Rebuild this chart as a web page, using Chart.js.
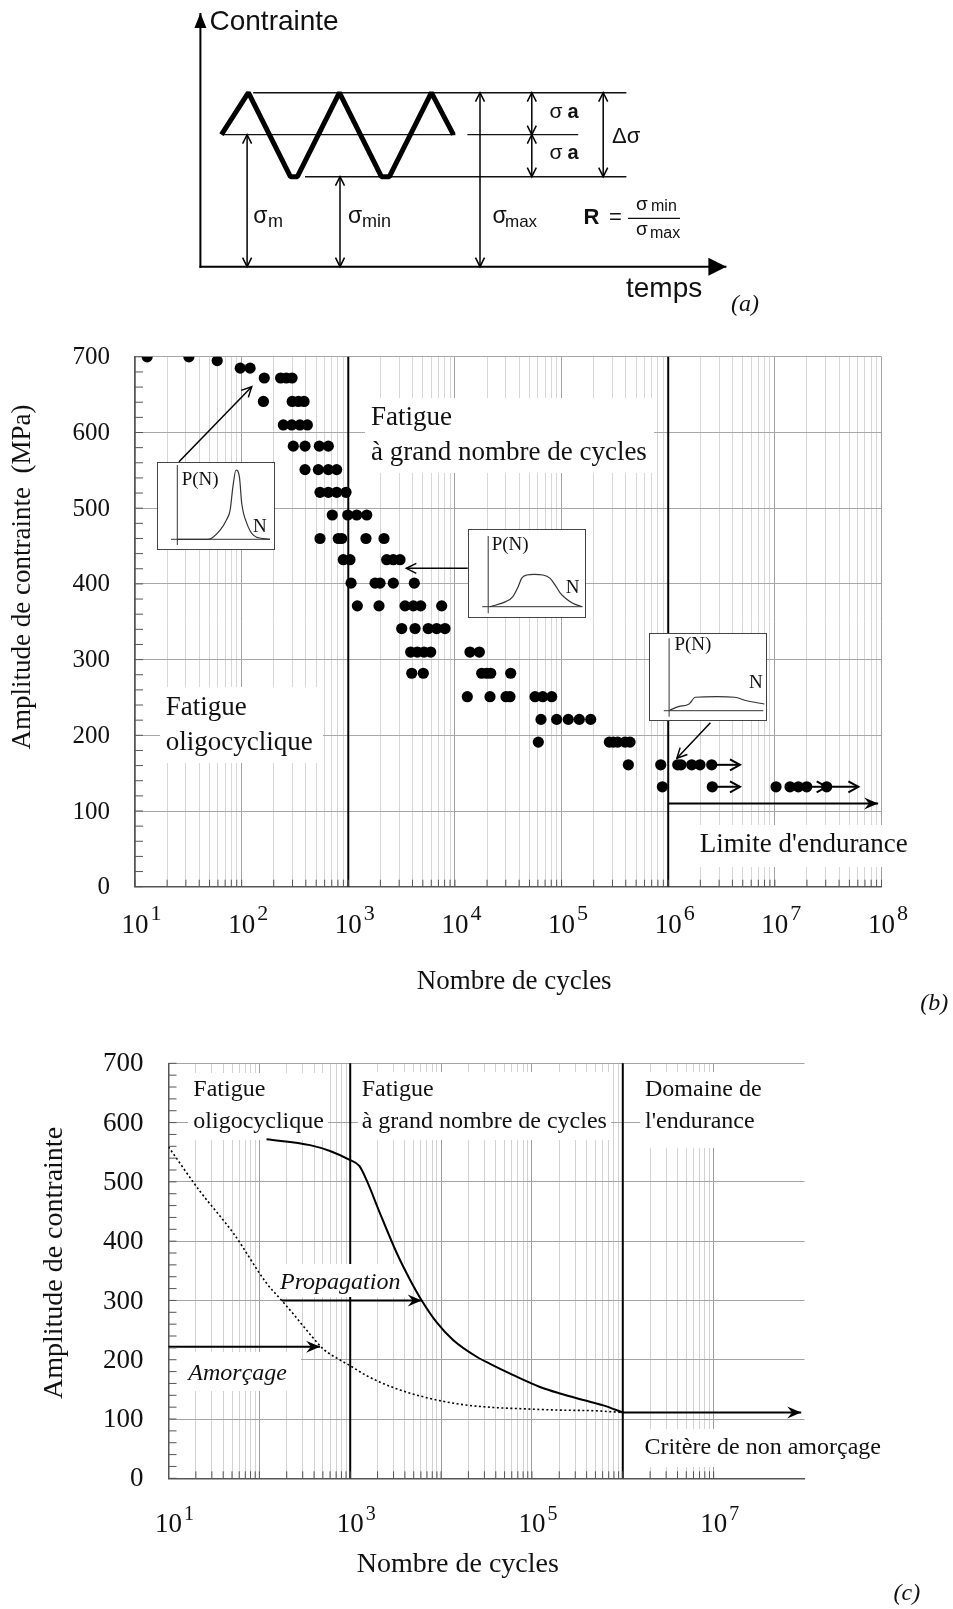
<!DOCTYPE html>
<html><head><meta charset="utf-8">
<script src="https://cdn.jsdelivr.net/npm/chart.js@4.4.1/dist/chart.umd.min.js"></script>
<style>
html,body{margin:0;padding:0;background:#fff;}
#page{position:relative;width:953px;height:1609px;overflow:hidden;background:#fff;}
#page canvas{position:absolute;left:0;}
</style></head><body>
<div id="page">
<canvas id="ca" width="953" height="325" style="top:0px"></canvas>
<canvas id="cb" width="953" height="700" style="top:330px"></canvas>
<canvas id="cc" width="953" height="579" style="top:1030px"></canvas>
<canvas id="i1" width="118" height="88" style="left:157px;top:462px"></canvas>
<canvas id="i2" width="118" height="89" style="left:468px;top:529px"></canvas>
<canvas id="i3" width="118" height="88" style="left:649px;top:633px"></canvas>
</div>
<script>
// ================= DATA =================
// (a) schematic cyclic loading
const waveTime   = [21, 48, 90, 97, 139, 181, 189, 231, 253];
const waveStress = [132, 174, 90, 90, 174, 90, 90, 174, 132];
const sigmaMax = 174, sigmaMean = 132, sigmaMin = 90;

// (b) S-N test results
const testCycles = [
 13, 32, 59,
 97, 120,
 163, 232, 262, 297,
 160, 298, 340, 385,
 246, 295, 352, 413,
 305, 393, 535, 650,
 393, 524, 650, 778,
 543, 650, 778, 952,
 708, 988, 1200, 1490,
 543, 806, 867, 1465, 2163,
 898, 1037, 2291, 2643, 3055,
 1062, 1782, 1983, 2643, 4159,
 1216, 1941, 3404, 4074, 4778, 7516,
 3170, 4227, 5623, 6745, 8072,
 3846, 4436, 5130, 5930, 13840, 16940,
 3936, 5050, 17830, 19860, 21660, 33340,
 13060, 21330, 30130, 32830, 56370, 66560, 80870,
 64120, 89950, 115600, 146600, 187500,
 60530, 280500, 305600, 336500, 393800, 438500,
 422700, 851000, 1228000, 1318000, 1661000, 1986000, 2557000,
 881000, 2588000, 10260000, 13870000, 16600000, 19900000, 30600000
];
const testStress = [
 700, 700, 695,
 685, 685,
 672, 672, 672, 672,
 641, 641, 641, 641,
 610, 610, 610, 610,
 582, 582, 582, 582,
 551, 551, 551, 551,
 521, 521, 521, 521,
 491, 491, 491, 491,
 460, 460, 460, 460, 460,
 432, 432, 432, 432, 432,
 401, 401, 401, 401, 401,
 371, 371, 371, 371, 371, 371,
 341, 341, 341, 341, 341,
 310, 310, 310, 310, 310, 310,
 282, 282, 282, 282, 282, 282,
 251, 251, 251, 251, 251, 251, 251,
 221, 221, 221, 221, 221,
 191, 191, 191, 191, 191, 191,
 161, 161, 161, 161, 161, 161, 161,
 132, 132, 132, 132, 132, 132, 132
];
const runoutFrom   = [2557000, 2588000, 19900000, 30600000];
const runoutTo     = [4710000, 4710000, 30600000, 60700000];
const runoutStress = [161, 132, 132, 132];
const enduranceB = {from: 1e6, to: 9.3e7, stress: 110};
const regimeBounds = [1e3, 1e6];

// distribution sketches P(N)
const inset1N = [0, 3.3, 4.6, 5.3, 5.7, 6.0, 6.33, 6.7, 6.95, 7.5, 8.2, 9.3, 10];
const inset1P = [0, 0, 0.13, 0.28, 0.42, 0.76, 1.0, 0.9, 0.52, 0.23, 0.06, 0.01, 0];
const inset2N = [0.18, 1.86, 2.61, 3.17, 3.55, 4.11, 4.85, 5.79, 6.53, 7.09, 7.65, 8.21, 8.95, 9.89];
const inset2P = [0, 0.16, 0.32, 0.63, 0.9, 1.0, 1.02, 1.0, 0.9, 0.68, 0.42, 0.26, 0.11, 0];
const inset3N = [0.07, 0.98, 2.06, 2.71, 4.95, 6.75, 8.01, 9.82];
const inset3P = [0.05, 0.29, 0.48, 0.96, 1.0, 0.96, 0.71, 0.48];

// (c) initiation / propagation curves
const totalLifeN = [120, 361, 600, 986, 1259, 1514, 2128, 3251, 4550, 6124, 8954, 13650, 24660, 34590, 62370, 122700, 203700, 368100, 610900, 1000000];
const totalLifeS = [572, 562, 552, 537, 527, 503, 447, 380, 335, 300, 263, 233, 205, 193, 174, 154, 143, 132, 123, 111];
const initiationN = [10, 22, 52, 120, 176, 237, 361, 506, 805, 970, 1521, 2979, 6950, 16180, 37580, 87700, 203700, 474200, 1000000];
const initiationS = [559, 485, 413, 329, 300, 277, 243, 218, 198, 191, 173, 153, 136, 125, 119.5, 117, 115, 114, 111];
const propagationArrow = {from: 176, to: 6124, stress: 300};
const initiationArrow  = {from: 10, to: 466, stress: 222};
const enduranceC = {from: 1e6, to: 9.2e7, stress: 111};

// axis tick sets
const stressTicks = [0, 100, 200, 300, 400, 500, 600, 700];
const decadesB = [1, 2, 3, 4, 5, 6, 7, 8];
const decadesC = [1, 3, 5, 7];

// ================= HELPERS =================
const SERIF = '"Liberation Serif", "Times New Roman", Times, serif';
const SANS  = '"Liberation Sans", Arial, Helvetica, sans-serif';
function logTickValues(e0, e1){ const t=[]; for(let e=e0;e<e1;e++){ for(let m=1;m<10;m++) t.push(m*Math.pow(10,e)); } t.push(Math.pow(10,e1)); return t; }
function stepValues(a,b,s){ const t=[]; for(let v=a; v<=b+1e-9; v+=s) t.push(v); return t; }
function isDecade(v){ const l=Math.log10(v); return Math.abs(l-Math.round(l))<1e-9; }
function text(ctx, s, x, y, size, o){
  o = o||{};
  ctx.save();
  ctx.font = (o.italic?'italic ':'')+(o.bold?'bold ':'')+size+'px '+(o.family||SERIF);
  ctx.textAlign = o.align||'left'; ctx.textBaseline = o.base||'middle';
  ctx.fillStyle = o.color||'#111';
  ctx.fillText(s, x, y);
  ctx.restore();
}
function vtext(ctx, s, cx, cy, size){ ctx.save(); ctx.translate(cx, cy); ctx.rotate(-Math.PI/2); text(ctx, s, 0, 0, size, {align:'center'}); ctx.restore(); }
function seg(ctx, x1,y1,x2,y2, color, w){ ctx.save(); ctx.strokeStyle=color; ctx.lineWidth=w; ctx.beginPath(); ctx.moveTo(x1,y1); ctx.lineTo(x2,y2); ctx.stroke(); ctx.restore(); }
function whiteBox(ctx, x1,y1,x2,y2){ ctx.save(); ctx.fillStyle='#fff'; ctx.fillRect(x1,y1,x2-x1,y2-y1); ctx.restore(); }
function head(ctx, xa,ya,xb,yb, o){
  const a=Math.atan2(yb-ya, xb-xa), L=o.head||9, H=o.half||4.5, c=Math.cos(a), s=Math.sin(a);
  const p1x=xb-L*c+H*s, p1y=yb-L*s-H*c, p2x=xb-L*c-H*s, p2y=yb-L*s+H*c;
  ctx.beginPath();
  if(o.style==='tri'){ ctx.moveTo(xb,yb); ctx.lineTo(p1x,p1y); ctx.lineTo(p2x,p2y); ctx.closePath(); ctx.fill(); }
  else if(o.style==='fill'){ ctx.moveTo(xb,yb); ctx.lineTo(p1x,p1y); ctx.lineTo(xb-L*0.65*c, yb-L*0.65*s); ctx.lineTo(p2x,p2y); ctx.closePath(); ctx.fill(); }
  else { ctx.moveTo(p1x,p1y); ctx.lineTo(xb,yb); ctx.lineTo(p2x,p2y); ctx.stroke(); }
}
function arrow(ctx, x1,y1,x2,y2, o){
  o=o||{}; ctx.save(); ctx.strokeStyle=o.color||'#000'; ctx.fillStyle=o.color||'#000'; ctx.lineWidth=o.width||1.5; ctx.lineJoin='miter';
  ctx.beginPath(); ctx.moveTo(x1,y1); ctx.lineTo(x2,y2); ctx.stroke();
  head(ctx,x1,y1,x2,y2,o); if(o.both) head(ctx,x2,y2,x1,y1,o);
  ctx.restore();
}
function powLabel(ctx, exp, cx, baseY, size, supSize, supBaseY){
  ctx.save(); ctx.font = size+'px '+SERIF; const w = ctx.measureText('10').width; ctx.restore();
  text(ctx, '10', cx - w/2, baseY, size, {base:'alphabetic'});
  text(ctx, String(exp), cx + w/2 + 2, supBaseY, supSize, {base:'alphabetic'});
}
const noChrome = {legend:{display:false}, tooltip:{enabled:false}};

// ================= (a) =================
const pluginA = {
  id:'schemaA',
  beforeDatasetsDraw(chart){
    const {ctx, scales:{x,y}} = chart;
    const X=v=>x.getPixelForValue(v), Y=v=>y.getPixelForValue(v);
    arrow(ctx, X(0), Y(0)+1, X(0), 13, {width:2, head:15, half:6, style:'tri'});
    arrow(ctx, X(0)-1, Y(0), X(526), Y(0), {width:2, head:18, half:9, style:'tri'});
    seg(ctx, X(52.8), Y(sigmaMax), X(426), Y(sigmaMax), '#111', 1.5);
    seg(ctx, X(22.5), Y(sigmaMean), X(255), Y(sigmaMean), '#111', 1.2);
    seg(ctx, X(267), Y(sigmaMean), X(377.8), Y(sigmaMean), '#111', 1.2);
    seg(ctx, X(104.6), Y(sigmaMin), X(426), Y(sigmaMin), '#111', 1.5);
    const o = {width:1.5, head:9, half:4.5, both:true};
    arrow(ctx, X(46.7), Y(sigmaMean), X(46.7), Y(0), o);
    arrow(ctx, X(139.6), Y(sigmaMin), X(139.6), Y(0), o);
    arrow(ctx, X(279.6), Y(sigmaMax), X(279.6), Y(0), o);
    arrow(ctx, X(331.4), Y(sigmaMax), X(331.4), Y(sigmaMean), o);
    arrow(ctx, X(331.4), Y(sigmaMean), X(331.4), Y(sigmaMin), o);
    arrow(ctx, X(402.8), Y(sigmaMax), X(402.8), Y(sigmaMin), o);
  },
  afterDraw(chart){
    const ctx = chart.ctx;
    text(ctx, 'Contrainte', 209.5, 30, 28, {family:SANS, base:'alphabetic'});
    text(ctx, 'temps', 626, 297, 28, {family:SANS, base:'alphabetic'});
    text(ctx, '(a)', 731, 305, 24, {italic:true});
    const sg = (x, b, sub, subX, subB, s1, s2) => { text(ctx, 'σ', x, b, s1, {family:SANS, base:'alphabetic'}); if(sub) text(ctx, sub, subX, subB, s2, {family:SANS, base:'alphabetic'}); };
    sg(253.2, 222.7, 'm', 268, 226.5, 23, 18);
    sg(347.9, 222.7, 'min', 362, 226.5, 23, 18);
    sg(492.5, 222.7, 'max', 505, 226.5, 23, 17);
    text(ctx, 'σ', 549.6, 118.3, 21, {family:SANS, base:'alphabetic'});
    text(ctx, 'a', 567.5, 118.3, 20, {family:SANS, base:'alphabetic', bold:true});
    text(ctx, 'σ', 549.6, 159.3, 21, {family:SANS, base:'alphabetic'});
    text(ctx, 'a', 567.5, 159.3, 20, {family:SANS, base:'alphabetic', bold:true});
    text(ctx, 'Δσ', 612, 142.7, 22, {family:SANS, base:'alphabetic'});
    text(ctx, 'R', 583.6, 224, 22, {family:SANS, base:'alphabetic', bold:true});
    text(ctx, '=', 609, 224, 22, {family:SANS, base:'alphabetic'});
    sg(636, 210, 'min', 651, 211, 19, 16);
    seg(ctx, 628, 218.3, 680, 218.3, '#111', 1.2);
    sg(636, 235, 'max', 650, 237.5, 19, 16);
  }
};
new Chart(document.getElementById('ca'), {
  type:'line',
  data:{datasets:[{data: waveTime.map((t,i)=>({x:t, y:waveStress[i]})), borderColor:'#000', borderWidth:5, pointRadius:0, tension:0, borderJoinStyle:'bevel', borderCapStyle:'butt', fill:false}]},
  options:{responsive:false, animation:false, devicePixelRatio:1, events:[],
    layout:{padding:{left:200.4, right:226.6, top:16.7, bottom:58.3}},
    plugins:noChrome,
    scales:{x:{type:'linear', display:false, min:0, max:526}, y:{type:'linear', display:false, min:0, max:250}}},
  plugins:[pluginA]
});

// ================= (b) =================
const B_TOP = 330;
const gridB = c => { const v=c.tick?c.tick.value:10; return isDecade(v)?'#a2a2a2':'#d6d6d6'; };
const pluginB = {
  id:'annB',
  beforeDatasetsDraw(chart){
    const {ctx, chartArea:ca, scales:{x}} = chart;
    regimeBounds.forEach(v=>{ const px=x.getPixelForValue(v); seg(ctx, px, ca.top, px, ca.bottom, '#000', 2); });
    ctx.save(); ctx.translate(0,-B_TOP);
    whiteBox(ctx, 365, 398, 654, 473);
    text(ctx, 'Fatigue', 371, 418, 27);
    text(ctx, 'à grand nombre de cycles', 371, 453, 27);
    whiteBox(ctx, 160, 687, 323, 763);
    text(ctx, 'Fatigue', 165.7, 708.3, 27);
    text(ctx, 'oligocyclique', 165.7, 743.3, 27);
    whiteBox(ctx, 690, 825, 892, 867);
    text(ctx, "Limite d'endurance", 699.8, 845, 27);
    ctx.restore();
  },
  afterDatasetsDraw(chart){
    const {ctx, scales:{x,y}} = chart;
    runoutFrom.forEach((n,i)=>{
      const py=y.getPixelForValue(runoutStress[i]);
      arrow(ctx, x.getPixelForValue(n), py, x.getPixelForValue(runoutTo[i]), py, {width:2, head:10, half:5.5});
    });
    const pe=y.getPixelForValue(enduranceB.stress);
    arrow(ctx, x.getPixelForValue(enduranceB.from), pe, x.getPixelForValue(enduranceB.to), pe, {width:2, head:14, half:6, style:'fill'});
    ctx.save(); ctx.translate(0,-B_TOP);
    arrow(ctx, 179, 461.7, 251.7, 386.7, {width:1.5, head:10, half:5});
    arrow(ctx, 467.7, 568.3, 406.3, 568.3, {width:1.5, head:10, half:5});
    arrow(ctx, 710.4, 722.7, 676.9, 758.3, {width:1.5, head:10, half:5});
    ctx.restore();
  },
  afterDraw(chart){
    const {ctx, chartArea:ca, scales:{x,y}} = chart;
    y.ticks.forEach(t=>{ const py=y.getPixelForValue(t.value); seg(ctx, ca.left, py, ca.left+8, py, '#555', 1); });
    x.ticks.forEach(t=>{ const px=x.getPixelForValue(t.value); seg(ctx, px, ca.bottom, px, ca.bottom-7, '#555', 1); });
    stressTicks.forEach(v=> text(ctx, String(v), ca.left-25, y.getPixelForValue(v)+1, 25, {align:'right'}));
    decadesB.forEach(e=> powLabel(ctx, e, x.getPixelForValue(Math.pow(10,e)), 933-B_TOP, 27, 22, 920-B_TOP));
    ctx.save(); ctx.translate(0,-B_TOP);
    vtext(ctx, 'Amplitude de contrainte  (MPa)', 23, 577, 27);
    text(ctx, 'Nombre de cycles', 416.7, 981.7, 27);
    text(ctx, '(b)', 920.3, 1003.3, 24, {italic:true});
    ctx.restore();
  }
};
new Chart(document.getElementById('cb'), {
  type:'scatter',
  data:{datasets:[{data: testCycles.map((n,i)=>({x:n, y:testStress[i]})), pointRadius:5.6, pointBackgroundColor:'#000', pointBorderColor:'#000', pointBorderWidth:0, showLine:false}]},
  options:{responsive:false, animation:false, devicePixelRatio:1, events:[],
    layout:{padding:{left:135, right:71.5, top:26.8, bottom:143.3}},
    plugins:noChrome,
    scales:{
      x:{type:'logarithmic', min:10, max:1e8, afterBuildTicks:s=>{ s.ticks = logTickValues(1,8).map(v=>({value:v})); }, ticks:{display:false}, grid:{color:gridB, lineWidth:1, drawTicks:false}, border:{display:true, color:'#555', width:1.5}},
      y:{type:'linear', min:0, max:700, afterBuildTicks:s=>{ s.ticks = stepValues(0,700,20).map(v=>({value:v})); }, ticks:{display:false}, grid:{color:c=>(c.tick && c.tick.value%100===0)?'#a8a8a8':'rgba(0,0,0,0)', lineWidth:1, drawTicks:false}, border:{display:true, color:'#555', width:1.5}}
    }},
  plugins:[pluginB]
});

// insets
function makeInset(id, N, P, cfg){
  const plug = {
    id:'inset_'+id,
    beforeDraw(chart){ const {ctx,width,height}=chart; ctx.save(); ctx.fillStyle='#fff'; ctx.fillRect(0,0,width,height); ctx.strokeStyle='#444'; ctx.lineWidth=1; ctx.strokeRect(0.5,0.5,width-1,height-1); ctx.restore(); },
    beforeDatasetsDraw(chart){ const {ctx,chartArea:ca}=chart; seg(ctx, ca.left, cfg.axisTop, ca.left, cfg.axisBottom, '#333', 1); seg(ctx, cfg.baseLeft, ca.bottom, cfg.baseRight, ca.bottom, '#333', 1); },
    afterDraw(chart){ const ctx=chart.ctx; text(ctx,'P(N)', cfg.pX, cfg.pY, 19); text(ctx,'N', cfg.nX, cfg.nY, 19); }
  };
  new Chart(document.getElementById(id), {
    type:'line',
    data:{datasets:[{data:N.map((n,i)=>({x:n,y:P[i]})), borderColor:'#333', borderWidth:1.2, pointRadius:0, cubicInterpolationMode:'monotone', clip:false, fill:false}]},
    options:{responsive:false, animation:false, devicePixelRatio:1, events:[],
      layout:{padding:cfg.pad}, plugins:noChrome,
      scales:{x:{type:'linear', display:false, min:0, max:10}, y:{type:'linear', display:false, min:0, max:1}}},
    plugins:[plug]
  });
}
makeInset('i1', inset1N, inset1P, {pad:{left:20.3,right:5,top:8,bottom:10.7}, axisTop:3, axisBottom:83, baseLeft:14, baseRight:113, pX:24.7, pY:18, nX:96, nY:64.7});
makeInset('i2', inset2N, inset2P, {pad:{left:20.2,right:3.3,top:46,bottom:11.3}, axisTop:7, axisBottom:84.3, baseLeft:14.2, baseRight:114.7, pX:23.7, pY:16, nX:97.8, nY:59.3});
makeInset('i3', inset3N, inset3P, {pad:{left:20.1,right:1,top:63.7,bottom:10.3}, axisTop:5.3, axisBottom:83.7, baseLeft:14.8, baseRight:114.3, pX:25.4, pY:12, nX:100, nY:50.3});

// ================= (c) =================
const C_TOP = 1030;
const gridC = c => { const v=c.tick?c.tick.value:10; if(v>1e7*1.0001) return 'rgba(0,0,0,0)'; return isDecade(v)?'#9e9e9e':'#d2d2d2'; };
const pluginC = {
  id:'annC',
  beforeDatasetsDraw(chart){
    const {ctx, chartArea:ca, scales:{x}} = chart;
    regimeBounds.forEach(v=>{ const px=x.getPixelForValue(v); seg(ctx, px, ca.top, px, ca.bottom, '#000', 2); });
    ctx.save(); ctx.translate(0,-C_TOP);
    whiteBox(ctx, 188, 1073, 328, 1140);
    text(ctx, 'Fatigue', 193.3, 1090, 24);
    text(ctx, 'oligocyclique', 193.3, 1121.7, 24);
    whiteBox(ctx, 358, 1072, 611, 1140);
    text(ctx, 'Fatigue', 361.7, 1090, 24);
    text(ctx, 'à grand nombre de cycles', 361.7, 1121.7, 24);
    whiteBox(ctx, 640, 1072, 806, 1148);
    text(ctx, 'Domaine de', 645, 1090, 24);
    text(ctx, "l'endurance", 645, 1121.7, 24);
    whiteBox(ctx, 275, 1264, 407, 1297);
    text(ctx, 'Propagation', 280, 1283, 24, {italic:true});
    whiteBox(ctx, 170, 1352, 301, 1391);
    text(ctx, 'Amorçage', 188.3, 1373.3, 24, {italic:true});
    whiteBox(ctx, 640, 1429, 886, 1467);
    text(ctx, 'Critère de non amorçage', 644.4, 1448, 24);
    ctx.restore();
  },
  afterDatasetsDraw(chart){
    const {ctx, scales:{x,y}} = chart;
    [propagationArrow, initiationArrow, enduranceC].forEach(a=>{
      const py=y.getPixelForValue(a.stress);
      arrow(ctx, x.getPixelForValue(a.from), py, x.getPixelForValue(a.to), py, {width:2, head:14, half:6, style:'fill'});
    });
  },
  afterDraw(chart){
    const {ctx, chartArea:ca, scales:{x,y}} = chart;
    y.ticks.forEach(t=>{ const py=y.getPixelForValue(t.value); seg(ctx, ca.left, py, ca.left+8, py, '#555', 1); });
    x.ticks.forEach(t=>{ if(t.value>1e7*1.0001) return; const px=x.getPixelForValue(t.value); seg(ctx, px, ca.bottom, px, ca.bottom-7, '#555', 1); });
    stressTicks.forEach(v=> text(ctx, String(v), ca.left-25, y.getPixelForValue(v)+1, 27, {align:'right'}));
    decadesC.forEach(e=> powLabel(ctx, e, x.getPixelForValue(Math.pow(10,e)), 1531.7-C_TOP, 27, 20, 1520-C_TOP));
    ctx.save(); ctx.translate(0,-C_TOP);
    vtext(ctx, 'Amplitude de contrainte', 55, 1263, 28);
    text(ctx, 'Nombre de cycles', 356.7, 1565, 28);
    text(ctx, '(c)', 893.6, 1593.3, 24, {italic:true});
    ctx.restore();
  }
};
new Chart(document.getElementById('cc'), {
  type:'line',
  data:{datasets:[
    {data: totalLifeN.map((n,i)=>({x:n, y:totalLifeS[i]})), borderColor:'#000', borderWidth:2, pointRadius:0, cubicInterpolationMode:'monotone', fill:false},
    {data: initiationN.map((n,i)=>({x:n, y:initiationS[i]})), borderColor:'#000', borderWidth:1.6, borderDash:[2,2.5], pointRadius:0, cubicInterpolationMode:'monotone', fill:false}
  ]},
  options:{responsive:false, animation:false, devicePixelRatio:1, events:[],
    layout:{padding:{left:168.5, right:148.5, top:33.3, bottom:130.7}},
    plugins:noChrome,
    scales:{
      x:{type:'logarithmic', min:10, max:1e8, afterBuildTicks:s=>{ s.ticks = logTickValues(1,8).map(v=>({value:v})); }, ticks:{display:false}, grid:{color:gridC, lineWidth:1, drawTicks:false}, border:{display:true, color:'#555', width:1.5}},
      y:{type:'linear', min:0, max:700, afterBuildTicks:s=>{ s.ticks = stepValues(0,700,20).map(v=>({value:v})); }, ticks:{display:false}, grid:{color:c=>(c.tick && c.tick.value%100===0)?'#a4a4a4':'rgba(0,0,0,0)', lineWidth:1, drawTicks:false}, border:{display:true, color:'#555', width:1.5}}
    }},
  plugins:[pluginC]
});
</script>
</body></html>
